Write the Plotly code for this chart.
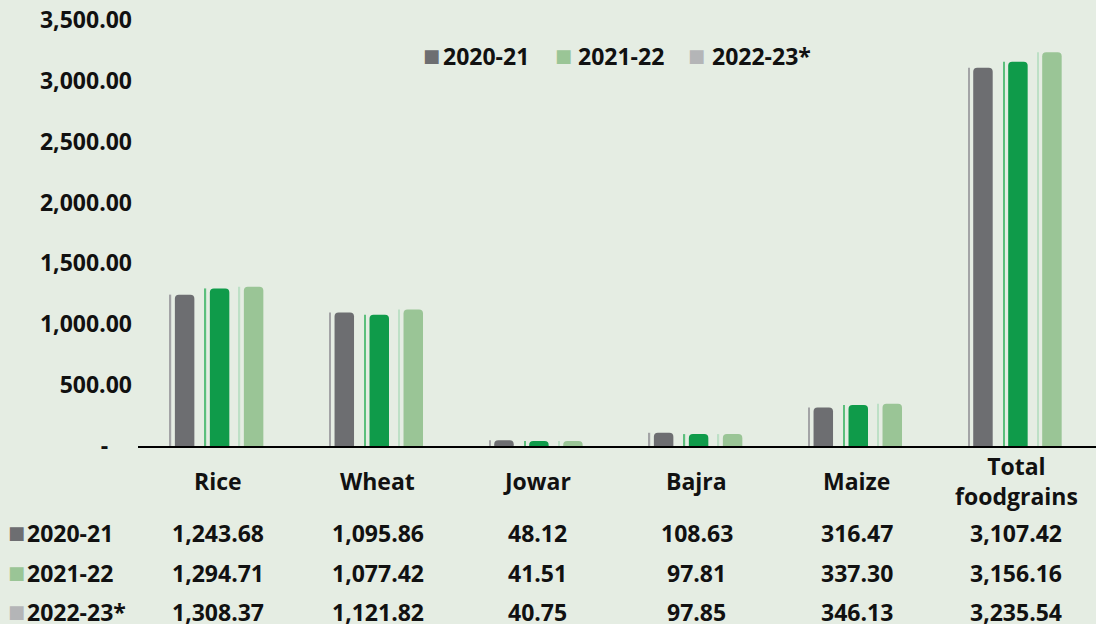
import plotly.graph_objects as go

culturas = ['Rice', 'Wheat', 'Jowar', 'Bajra', 'Maize', 'Total<br>foodgrains']
anos = ['2020-21', '2021-22', '2022-23*']
v_2020_21 = [1243.68, 1095.86, 48.12, 108.63, 316.47, 3107.42]
v_2021_22 = [1294.71, 1077.42, 41.51, 97.81, 337.30, 3156.16]
v_2022_23 = [1308.37, 1121.82, 40.75, 97.85, 346.13, 3235.54]
y_ticks = [0, 500, 1000, 1500, 2000, 2500, 3000, 3500]

series = [v_2020_21, v_2021_22, v_2022_23]
cores_barra = ['#6d6e71', '#0f9b4a', '#9ac596']
cores_linha = ['#a3a4a6', '#5cbf7c', '#bde0c6']
cores_legenda = ['#6d6e71', '#9ac596', '#b4b5b7']
offsets = [-0.269, -0.05, 0.163]

fonte = dict(family='Open Sans', size=23, color='#111111', weight='bold')
fundo = '#e5ede3'

fig = go.Figure()

for i, vals in enumerate(series):
    # fio fino ao lado de cada barra (efeito de sombra do original)
    fig.add_trace(go.Bar(x=culturas, y=vals, width=0.009, offset=offsets[i] - 0.032,
                         marker=dict(color=cores_linha[i], line_width=0),
                         showlegend=False, hoverinfo='skip'))
    fig.add_trace(go.Bar(x=culturas, y=vals, width=0.122, offset=offsets[i],
                         marker=dict(color=cores_barra[i], line_width=0, cornerradius=4),
                         name=anos[i], showlegend=False))

anots = []


def rotulo(x_quad, x_txt, y, cor, txt):
    # quadradinho colorido + texto, como na legenda do original
    anots.append(dict(x=x_quad, xref='paper', y=y, yref='paper', text='■', showarrow=False,
                      xanchor='left', yanchor='middle',
                      font=dict(family='DejaVu Sans', size=18, color=cor)))
    anots.append(dict(x=x_txt, xref='paper', y=y, yref='paper', text=txt, showarrow=False,
                      xanchor='left', yanchor='middle', font=fonte))


# legenda no topo (as cores da legenda do original diferem das barras)
leg_quad = [0.2949, 0.4337, 0.5725]
leg_txt = [0.3168, 0.4572, 0.5971]
for i, ano in enumerate(anos):
    rotulo(leg_quad[i], leg_txt[i], 0.9155, cores_legenda[i], ano)

for c in culturas:
    anots.append(dict(x=c, xref='x', y=-0.082, yref='paper', text=c, showarrow=False,
                      xanchor='center', yanchor='middle', font=fonte))

linhas_y = [-0.204, -0.298, -0.389]
for i, vals in enumerate(series):
    rotulo(-0.1373, -0.1180, linhas_y[i], cores_legenda[i], anos[i])
    for c, v in zip(culturas, vals):
        anots.append(dict(x=c, xref='x', y=linhas_y[i], yref='paper', text=f'{v:,.2f}',
                          showarrow=False, xanchor='center', yanchor='middle', font=fonte))

fig.update_layout(
    width=1096, height=624,
    barmode='overlay',
    paper_bgcolor=fundo, plot_bgcolor=fundo,
    margin=dict(l=138, r=0, t=20, b=178),
    showlegend=False,
    annotations=anots,
)
fig.update_xaxes(showticklabels=False, showgrid=False, showline=True, linecolor='#000000',
                 linewidth=2, ticks='', zeroline=False)
fig.update_yaxes(range=[0, 3500], tickvals=y_ticks,
                 ticktext=['-' + '\u00a0' * 4] + [f'{t:,.2f}' for t in y_ticks[1:]],
                 tickfont=fonte, showgrid=False, zeroline=False, showline=False, ticks='',
                 ticklabelstandoff=5)

# tira a margem padrao do body para a figura ocupar a janela inteira
fig.write_html("out.html", config={'displayModeBar': False},
               post_script="document.body.style.margin='0';")
